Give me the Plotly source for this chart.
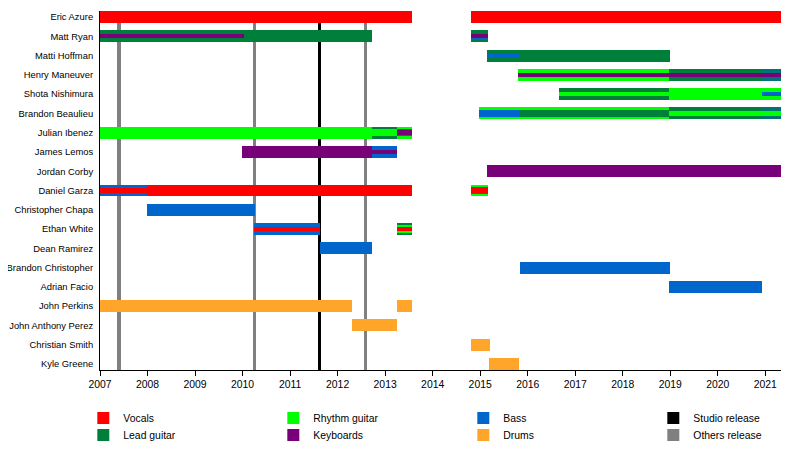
import plotly.graph_objects as go

# Members, top to bottom
MEMBERS = [
    "Eric Azure", "Matt Ryan", "Matti Hoffman", "Henry Maneuver", "Shota Nishimura",
    "Brandon Beaulieu", "Julian Ibenez", "James Lemos", "Jordan Corby", "Daniel Garza",
    "Christopher Chapa", "Ethan White", "Dean Ramirez", "Brandon Christopher",
    "Adrian Facio", "John Perkins", "John Anthony Perez", "Christian Smith", "Kyle Greene",
]

# Membership segments (member, role, start, end, layer)
SEG_MEMBER = [
    "Eric Azure", "Eric Azure",
    "Matt Ryan", "Matt Ryan", "Matt Ryan", "Matt Ryan", "Matt Ryan",
    "Matti Hoffman", "Matti Hoffman",
    "Henry Maneuver", "Henry Maneuver", "Henry Maneuver", "Henry Maneuver",
    "Shota Nishimura", "Shota Nishimura", "Shota Nishimura", "Shota Nishimura",
    "Brandon Beaulieu", "Brandon Beaulieu", "Brandon Beaulieu", "Brandon Beaulieu",
    "Brandon Beaulieu", "Brandon Beaulieu",
    "Julian Ibenez", "Julian Ibenez", "Julian Ibenez", "Julian Ibenez", "Julian Ibenez",
    "Julian Ibenez",
    "James Lemos", "James Lemos", "James Lemos",
    "Jordan Corby",
    "Daniel Garza", "Daniel Garza", "Daniel Garza", "Daniel Garza", "Daniel Garza",
    "Daniel Garza",
    "Christopher Chapa",
    "Ethan White", "Ethan White", "Ethan White", "Ethan White", "Ethan White",
    "Dean Ramirez",
    "Brandon Christopher",
    "Adrian Facio",
    "John Perkins", "John Perkins",
    "John Anthony Perez",
    "Christian Smith",
    "Kyle Greene",
]
SEG_ROLE = [
    "Vocals", "Vocals",
    "Lead guitar", "Keyboards", "Lead guitar", "Bass", "Keyboards",
    "Lead guitar", "Bass",
    "Rhythm guitar", "Lead guitar", "Keyboards", "Bass",
    "Lead guitar", "Rhythm guitar", "Rhythm guitar", "Bass",
    "Rhythm guitar", "Bass", "Lead guitar", "Lead guitar", "Rhythm guitar", "Bass",
    "Rhythm guitar", "Lead guitar", "Rhythm guitar", "Rhythm guitar", "Lead guitar",
    "Keyboards",
    "Keyboards", "Bass", "Keyboards",
    "Keyboards",
    "Bass", "Vocals", "Vocals", "Rhythm guitar", "Lead guitar", "Vocals",
    "Bass",
    "Bass", "Vocals", "Lead guitar", "Rhythm guitar", "Vocals",
    "Bass",
    "Bass",
    "Bass",
    "Drums", "Drums",
    "Drums",
    "Drums",
    "Drums",
]
SEG_START = [
    2007.00, 2014.80,
    2007.00, 2007.00, 2014.80, 2014.80, 2014.80,
    2015.14, 2015.14,
    2015.80, 2018.97, 2015.80, 2020.92,
    2016.65, 2016.65, 2018.97, 2020.92,
    2014.97, 2014.97, 2015.83, 2018.97, 2018.97, 2020.92,
    2007.00, 2012.72, 2012.72, 2013.24, 2013.24, 2013.24,
    2009.99, 2012.72, 2012.72,
    2015.14,
    2007.00, 2007.00, 2007.98, 2014.80, 2014.80, 2014.80,
    2007.98,
    2010.25, 2010.25, 2013.24, 2013.24, 2013.24,
    2011.63,
    2015.83,
    2018.97,
    2007.00, 2013.24,
    2012.30,
    2014.80,
    2015.18,
]
SEG_END = [
    2013.56, 2021.33,
    2012.73, 2010.02, 2015.16, 2015.16, 2015.16,
    2018.99, 2015.83,
    2018.97, 2021.33, 2021.33, 2021.33,
    2018.97, 2018.97, 2021.33, 2021.33,
    2018.97, 2015.83, 2018.97, 2021.33, 2021.33, 2021.33,
    2012.72, 2013.24, 2013.24, 2013.56, 2013.56, 2013.56,
    2012.72, 2013.26, 2013.26,
    2021.33,
    2007.98, 2007.98, 2013.56, 2015.16, 2015.16, 2015.16,
    2010.26,
    2011.63, 2011.63, 2013.56, 2013.56, 2013.56,
    2012.73,
    2018.99,
    2020.92,
    2012.31, 2013.56,
    2013.26,
    2015.20,
    2015.81,
]
SEG_LAYER = [
    "full", "full",
    "full", "thin", "full", "mid", "thin",
    "full", "thin",
    "full", "full", "thin", "tint",
    "full", "thin", "full", "thin",
    "full", "mid", "mid", "full", "thin", "tint",
    "full", "full", "mid", "full", "mid", "thin",
    "full", "full", "thin",
    "full",
    "full", "thin", "full", "full", "mid", "thin",
    "full",
    "full", "thin", "full", "mid", "thin",
    "full",
    "full",
    "full",
    "full", "full",
    "full",
    "full",
    "full",
]

# Album releases
STUDIO_RELEASES = [2011.61]
OTHER_RELEASES = [2007.40, 2010.25, 2012.58]

ROLES = ["Vocals", "Lead guitar", "Rhythm guitar", "Keyboards", "Bass", "Drums"]
ROLE_COLORS = {
    "Vocals": "#FF0000",
    "Lead guitar": "#007F3A",
    "Rhythm guitar": "#00FF00",
    "Keyboards": "#780078",
    "Bass": "#0066CC",
    "Drums": "#FFA52A",
}
# legend placement: row 1 / row 2 and column order
ROLE_LEGEND = {
    "Vocals": ("legend", 1), "Rhythm guitar": ("legend", 2), "Bass": ("legend", 3),
    "Lead guitar": ("legend2", 1), "Keyboards": ("legend2", 2), "Drums": ("legend2", 3),
}

LAYER_WIDTH = {"full": 0.62, "tint": 0.62, "mid": 0.38, "thin": 0.23}
LAYER_OPACITY = {"full": 1.0, "tint": 0.4, "mid": 1.0, "thin": 1.0}
LINE_W = 0.065  # release line width in years

FONT = "Liberation Sans, Arial, sans-serif"
FONT_SIZE = 10.4

fig = go.Figure()

# release lines (drawn on the numeric base axis, below the member bars)
fig.add_trace(
    go.Bar(
        x=OTHER_RELEASES,
        y=[1] * len(OTHER_RELEASES),
        base=0,
        width=LINE_W,
        marker_color="#808080",
        name="Others release",
        legend="legend2",
        legendrank=4,
        xaxis="x",
        yaxis="y",
        hoverinfo="skip",
    )
)
fig.add_trace(
    go.Bar(
        x=STUDIO_RELEASES,
        y=[1] * len(STUDIO_RELEASES),
        base=0,
        width=LINE_W,
        marker_color="#000000",
        name="Studio release",
        legend="legend",
        legendrank=4,
        xaxis="x",
        yaxis="y",
        hoverinfo="skip",
    )
)

# member bars, layer by layer
for layer in ["full", "tint", "mid", "thin"]:
    for role in ROLES:
        idx = [
            i for i in range(len(SEG_MEMBER))
            if SEG_ROLE[i] == role and SEG_LAYER[i] == layer
        ]
        if not idx:
            continue
        leg, rank = ROLE_LEGEND[role]
        fig.add_trace(
            go.Bar(
                orientation="h",
                y=[SEG_MEMBER[i] for i in idx],
                base=[SEG_START[i] for i in idx],
                x=[SEG_END[i] - SEG_START[i] for i in idx],
                width=LAYER_WIDTH[layer],
                opacity=LAYER_OPACITY[layer],
                marker_color=ROLE_COLORS[role],
                name=role,
                legendgroup=role,
                showlegend=(layer == "full"),
                legend=leg,
                legendrank=rank,
                xaxis="x",
                yaxis="y2",
                hovertemplate=role + ": %{base:.1f} - %{x:.1f}<extra>%{y}</extra>",
            )
        )

legend_common = dict(
    orientation="h",
    xanchor="left",
    yanchor="middle",
    x=-0.0245,
    entrywidth=145,
    font=dict(family=FONT, size=FONT_SIZE, color="#000000"),
    bgcolor="rgba(0,0,0,0)",
    borderwidth=0,
    traceorder="normal",
)

fig.update_layout(
    template="none",
    width=800,
    height=450,
    barmode="overlay",
    bargap=0,
    # page body adds an 8px offset, margins compensate for it
    margin=dict(l=92, r=27, t=3, b=88, autoexpand=False),
    paper_bgcolor="white",
    plot_bgcolor="white",
    font=dict(family=FONT, size=FONT_SIZE, color="#000000"),
    xaxis=dict(
        range=[2007, 2021.33],
        tickmode="linear",
        tick0=2007,
        dtick=1,
        ticks="outside",
        ticklen=5,
        tickwidth=1,
        tickcolor="#000000",
        showline=True,
        linecolor="#000000",
        linewidth=1,
        showgrid=False,
        zeroline=False,
        fixedrange=True,
    ),
    yaxis=dict(
        range=[0, 1],
        visible=False,
        fixedrange=True,
    ),
    yaxis2=dict(
        type="category",
        categoryorder="array",
        categoryarray=MEMBERS,
        range=[len(MEMBERS) - 1 + 0.31, -0.31],
        overlaying="y",
        anchor="x",
        side="left",
        showline=True,
        linecolor="#000000",
        linewidth=1,
        showgrid=False,
        zeroline=False,
        ticks="",
        ticklabelstandoff=4,
        tickfont=dict(family=FONT, size=9.4, color="#000000"),
        fixedrange=True,
    ),
    legend=dict(legend_common, y=-0.134),
    legend2=dict(legend_common, y=-0.181),
)

fig.write_html("out.html")
